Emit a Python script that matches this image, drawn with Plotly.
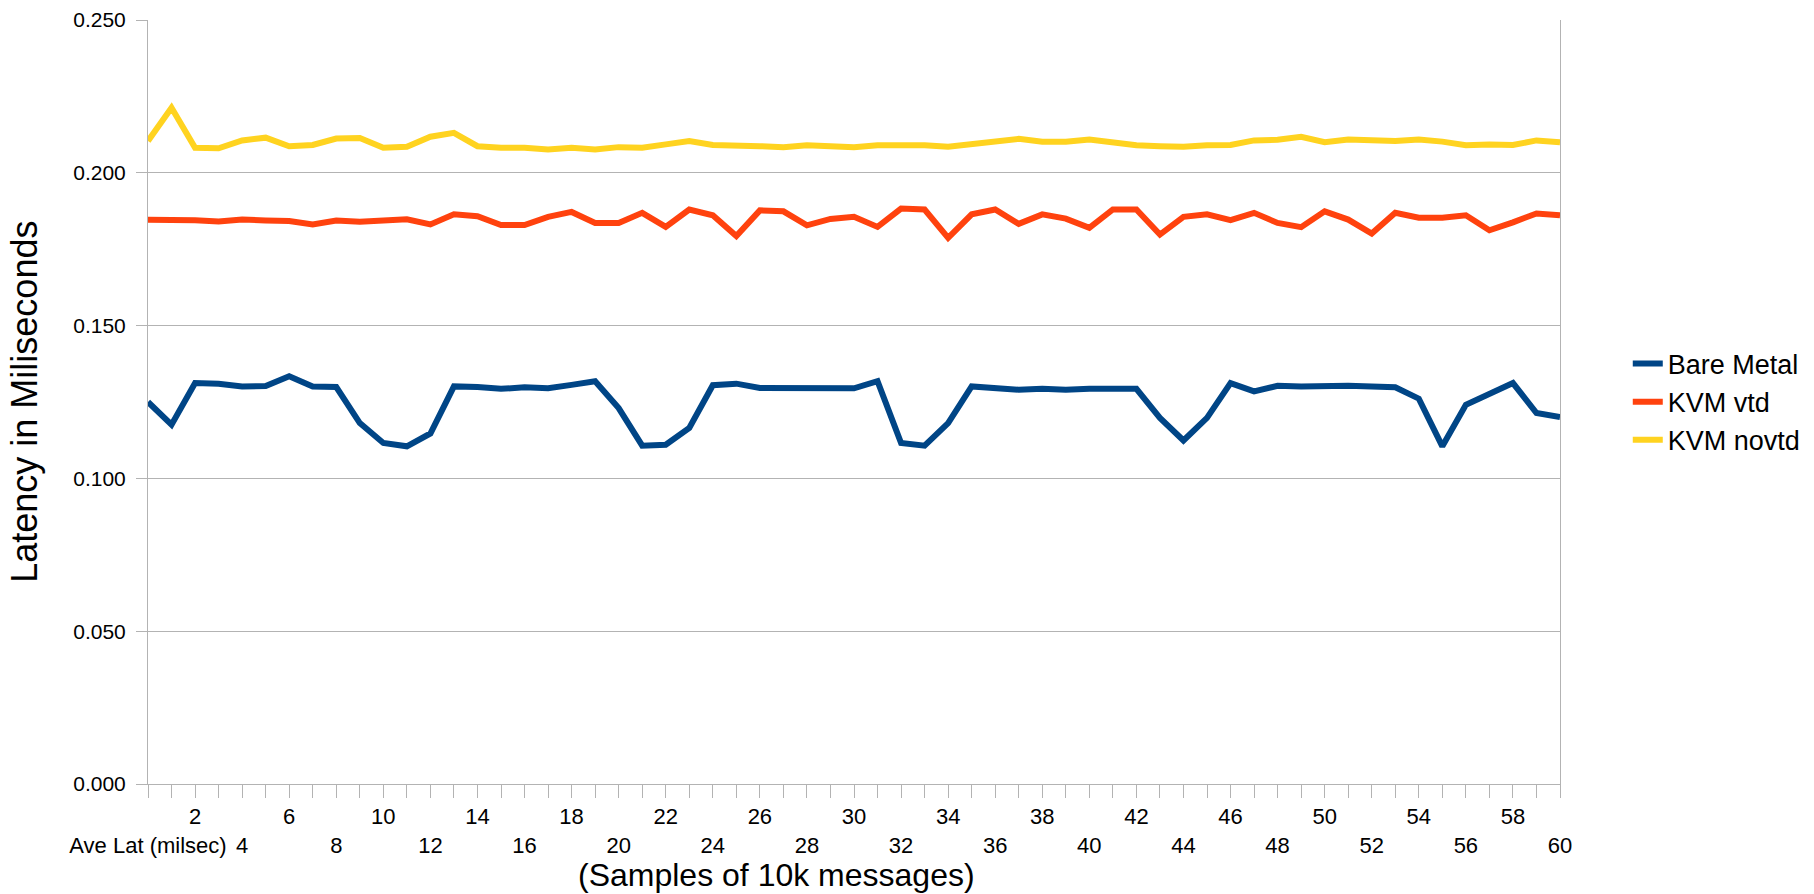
import plotly.graph_objects as go

# Category labels: first category is the average row, then samples 1..60
categories = ["Ave Lat (milsec)"] + [str(i) for i in range(1, 61)]

bare_metal = [0.1250, 0.1176, 0.1312, 0.1310, 0.1301, 0.1302, 0.1334, 0.1301, 0.1299, 0.1181,
              0.1116, 0.1105, 0.1147, 0.1301, 0.1299, 0.1293, 0.1298, 0.1295, 0.1306, 0.1318,
              0.1230, 0.1107, 0.1110, 0.1165, 0.1305, 0.1310, 0.1296, 0.1296, 0.1293, 0.1296,
              0.1295, 0.1318, 0.1116, 0.1107, 0.1181, 0.1301, 0.1295, 0.1290, 0.1293, 0.1290,
              0.1293, 0.1293, 0.1293, 0.1198, 0.1124, 0.1198, 0.1312, 0.1285, 0.1303, 0.1301,
              0.1303, 0.1303, 0.1301, 0.1298, 0.1261, 0.1105, 0.1241, 0.1274, 0.1312, 0.1214,
              0.1201]

kvm_vtd = [0.1846, 0.1846, 0.1845, 0.1841, 0.1847, 0.1844, 0.1842, 0.1831, 0.1844, 0.1840,
           0.1842, 0.1848, 0.1831, 0.1864, 0.1858, 0.1829, 0.1829, 0.1856, 0.1872, 0.1836,
           0.1836, 0.1869, 0.1823, 0.1880, 0.1861, 0.1793, 0.1877, 0.1874, 0.1828, 0.1849,
           0.1856, 0.1823, 0.1883, 0.1880, 0.1787, 0.1864, 0.1880, 0.1833, 0.1864, 0.1850,
           0.1820, 0.1880, 0.1880, 0.1798, 0.1856, 0.1864, 0.1845, 0.1869, 0.1836, 0.1822,
           0.1874, 0.1847, 0.1801, 0.1869, 0.1853, 0.1853, 0.1861, 0.1812, 0.1838, 0.1867,
           0.1861]

kvm_novtd = [0.2104, 0.2213, 0.2082, 0.2080, 0.2106, 0.2115, 0.2087, 0.2091, 0.2112, 0.2114,
             0.2082, 0.2085, 0.2118, 0.2131, 0.2087, 0.2082, 0.2082, 0.2076, 0.2082, 0.2076,
             0.2084, 0.2082, 0.2093, 0.2104, 0.2091, 0.2087, 0.2087, 0.2084, 0.2090, 0.2087,
             0.2084, 0.2090, 0.2090, 0.2090, 0.2085, 0.2095, 0.2103, 0.2111, 0.2102, 0.2102,
             0.2109, 0.2098, 0.2090, 0.2087, 0.2085, 0.2090, 0.2091, 0.2106, 0.2108, 0.2118,
             0.2100, 0.2109, 0.2107, 0.2104, 0.2109, 0.2102, 0.2090, 0.2093, 0.2091, 0.2106,
             0.2100]

series_names = ["Bare Metal", "KVM vtd", "KVM novtd"]
series_colors = ["#004586", "#ff420e", "#ffd320"]

y_tick_vals = [0.0, 0.05, 0.10, 0.15, 0.20, 0.25]

# Staggered tick labels: every 2nd category shown, alternating rows
tick_text = []
for i, c in enumerate(categories):
    if i % 4 == 0:
        tick_text.append("<br>" + c)
    elif i % 4 == 2:
        tick_text.append(c)
    else:
        tick_text.append("")

FONT = "Liberation Sans, Arial, sans-serif"
GRID = "#b3b3b3"

fig = go.Figure()
for name, vals, col in zip(series_names, [bare_metal, kvm_vtd, kvm_novtd], series_colors):
    fig.add_trace(go.Scatter(x=categories, y=vals, mode="lines", name=name,
                             line=dict(color=col, width=6)))

fig.update_layout(
    width=1814, height=894,
    margin=dict(l=148, r=254, t=20, b=110, autoexpand=False),
    paper_bgcolor="white", plot_bgcolor="white",
    font=dict(family=FONT, color="black", size=20),
    showlegend=True,
    legend=dict(x=1.048, xanchor="left", y=0.5, yanchor="middle",
                font=dict(size=27, family=FONT, color="black"),
                bgcolor="rgba(0,0,0,0)", tracegroupgap=0),
    annotations=[
        dict(text="(Samples of 10k messages)", xref="paper", yref="paper",
             x=0.4448, y=-0.1196, xanchor="center", yanchor="middle",
             showarrow=False, font=dict(size=32, family=FONT, color="black")),
        dict(text="Latency in Miliseconds", xref="paper", yref="paper",
             x=-0.088, y=0.5, xanchor="center", yanchor="middle", textangle=-90,
             showarrow=False, font=dict(size=36, family=FONT, color="black")),
    ],
)

fig.update_xaxes(
    type="category", range=[0, len(categories) - 1],
    tickmode="array", tickvals=categories, ticktext=tick_text, tickangle=0,
    ticks="outside", ticklen=13, tickcolor=GRID, tickwidth=1,
    showline=True, linecolor=GRID, linewidth=1, showgrid=False, zeroline=False,
    tickfont=dict(size=22, family=FONT, color="black"),
)
fig.update_yaxes(
    range=[0, 0.25], tickmode="array", tickvals=y_tick_vals, tickformat=".3f",
    ticks="outside", ticklen=11, tickcolor=GRID, tickwidth=1,
    showline=True, linecolor=GRID, linewidth=1, mirror=True,
    showgrid=True, gridcolor=GRID, gridwidth=1, zeroline=False,
    tickfont=dict(size=21, family=FONT, color="black"), ticklabelstandoff=6,
)

fig.write_html("out.html", config={"displayModeBar": False},
               post_script="document.body.style.margin='0';document.body.style.overflow='hidden';")
